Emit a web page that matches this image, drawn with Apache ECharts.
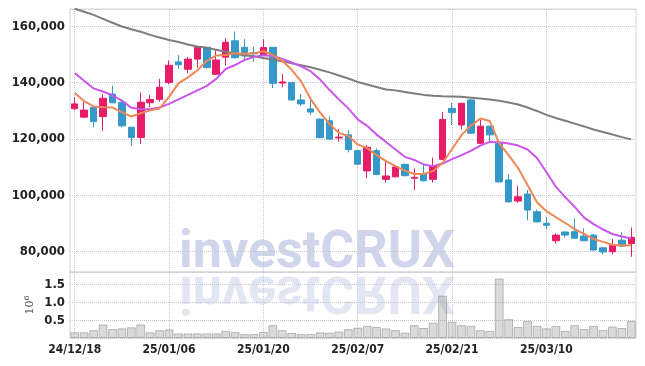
<!DOCTYPE html>
<html>
<head>
<meta charset="utf-8">
<script src="https://cdn.jsdelivr.net/npm/echarts@6/dist/echarts.min.js"></script>
<style>
html,body{margin:0;padding:0;background:#fff;}
#main{width:645px;height:366px;}
</style>
</head>
<body>
<div id="main"></div>
<script>
var dates = ['24/12/18','24/12/19','24/12/20','24/12/23','24/12/24','24/12/26','24/12/27','24/12/30','25/01/02','25/01/03',
  '25/01/06','25/01/07','25/01/08','25/01/09','25/01/10','25/01/13','25/01/14','25/01/15','25/01/16','25/01/17',
  '25/01/20','25/01/21','25/01/22','25/01/23','25/01/24','25/01/31','25/02/03','25/02/04','25/02/05','25/02/06',
  '25/02/07','25/02/10','25/02/11','25/02/12','25/02/13','25/02/14','25/02/17','25/02/18','25/02/19','25/02/20',
  '25/02/21','25/02/24','25/02/25','25/02/26','25/02/27','25/02/28','25/03/04','25/03/05','25/03/06','25/03/07',
  '25/03/10','25/03/11','25/03/12','25/03/13','25/03/14','25/03/17','25/03/18','25/03/19','25/03/20','25/03/21'];

// open, close, low, high
var candles = [
  [130700,132400,130200,134800],[127700,130200,127400,133200],[131200,126100,124100,131300],[127900,134400,122800,135900],
  [135900,132800,132600,138900],[133000,124600,124100,134000],[124100,120500,117400,124300],[120500,133000,118200,136400],
  [132800,134000,131200,135500],[134000,138300,133200,141300],[140000,146100,139400,147800],[147300,146300,144900,149700],
  [144700,148300,143300,149100],[148300,152500,145300,152600],[152500,145300,145000,152600],[142900,148000,142700,151900],
  [149000,154300,146000,155700],[154800,148800,148500,158100],[152500,149400,148300,155400],[150600,150200,147300,152700],
  [149700,152400,149500,155400],[152500,139700,138000,152600],[139800,140200,138300,142900],[140000,133800,133600,140100],
  [133800,132400,131700,135900],[130600,129500,128500,133800],[127000,120400,120200,127200],[126400,119900,119700,127900],
  [120300,120600,119000,123400],[121400,116200,115200,123100],[115800,111000,110800,116000],[108600,117000,106000,117800],
  [115800,107300,107100,116600],[105600,106800,104500,111900],[106500,110000,106300,110700],[110900,106900,106700,111300],
  [106000,106300,101800,109500],[107700,105100,104900,110700],[105600,110300,104500,113300],[112700,126900,112500,129600],
  [130800,129300,124900,132800],[124900,132600,123400,132800],[133800,122000,121800,134000],[118400,124500,118200,126700],
  [124500,121400,119000,124700],[118400,104700,104500,118600],[105400,97600,97400,107500],[97900,99400,97300,103300],
  [100400,94700,91100,101800],[94100,90500,90300,94900],[90000,89300,87800,92300],[83800,85800,82800,86400],
  [86900,85800,85000,87200],[87000,84700,84500,91700],[85500,83800,83600,88200],[85800,80500,80300,86200],
  [81300,79800,79000,81500],[79900,82200,78900,84400],[84000,81900,81700,86800],[82800,85000,78100,88500]
];

var ma5 = [136300,133400,131500,131200,131100,129500,127900,129100,130100,130800,
  134900,139700,141800,144300,147700,149600,149800,150400,150200,150400,
  151100,149800,147700,144500,140400,134200,129400,125300,122100,121000,
  118000,116700,114200,112100,110300,108700,107500,107500,108600,111400,
  116400,121300,124700,127200,126300,118400,114200,109600,103600,97500,
  94300,92200,90100,87900,86200,84400,83400,82400,82100,82200];

var ma20 = [143400,140600,137900,136800,135400,133600,131000,130500,130500,131100,
  132400,134000,135600,137200,138800,141300,144800,146200,148000,149100,
  149700,149400,148400,147100,145700,144000,141100,137400,134000,130800,
  126900,124600,121500,118900,116200,113600,112500,110900,110300,111200,
  112800,114200,115700,117600,118900,118800,118300,117600,116200,113200,
  108200,103000,99300,95800,92000,89700,87800,86200,85300,84600];

var ma60 = [166200,165100,164000,162600,161200,159900,158900,158000,156900,156000,
  155100,154400,153500,152800,152300,151600,150900,150200,149700,149300,
  148700,148200,147500,146800,146100,145400,144500,143600,142500,141400,
  140200,139300,138400,137500,137200,136600,136100,135600,135300,135100,
  135000,134900,134600,134300,134000,133500,132900,132200,131100,129900,
  128500,127400,126400,125400,124400,123300,122400,121500,120600,119800];

// volume, millions of shares
var volume = [0.16,0.16,0.22,0.38,0.25,0.27,0.30,0.38,0.16,0.22,
  0.24,0.13,0.13,0.13,0.13,0.13,0.20,0.17,0.11,0.11,
  0.17,0.36,0.22,0.14,0.11,0.11,0.16,0.15,0.18,0.25,
  0.29,0.34,0.31,0.27,0.22,0.15,0.36,0.28,0.43,1.19,
  0.46,0.36,0.34,0.22,0.20,1.67,0.53,0.31,0.48,0.34,
  0.27,0.34,0.20,0.36,0.25,0.34,0.22,0.32,0.28,0.48];

var priceMin = 72700, priceMax = 166100;
var volMin = 0, volMax = 1.85, volStep = 0.5;

var labelFont = "'DejaVu Sans Condensed','DejaVu Sans',sans-serif";
var gridColor = '#c6c8d8';
var upColor = '#e81c68', downColor = '#3598c9';

var dotted = {show: true, lineStyle: {type: 'dotted', color: gridColor, width: 1}};
var vDotted = {show: true, interval: 9, alignWithLabel: true, lineStyle: {type: 'dotted', color: gridColor, width: 1}};

var chart = echarts.init(document.getElementById('main'));
chart.setOption({
  animation: false,
  backgroundColor: '#fff',
  graphic: [
    {
      type: 'text', z: -10, silent: true, x: 179, y: 272,
      style: {text: 'investCRUX', font: 'bold 52px Roboto', fill: '#cfd5ea', verticalAlign: 'middle', y: -18}
    },
    {
      type: 'text', z: -10, silent: true, x: 179, y: 272, scaleY: -1,
      style: {text: 'investCRUX', font: 'bold 52px Roboto', fill: '#cfd5ea', opacity: 0.6, verticalAlign: 'middle', y: -18}
    }
  ],
  grid: [
    {left: 70, right: 9, top: 9, height: 263, show: true, borderColor: '#d4d4d4', borderWidth: 1},
    {left: 70, right: 9, top: 272, height: 66, show: true, borderColor: '#d4d4d4', borderWidth: 1}
  ],
  xAxis: [
    {
      type: 'category', gridIndex: 0, data: dates,
      axisLine: {show: false}, axisTick: {show: false}, axisLabel: {show: false},
      splitLine: vDotted
    },
    {
      type: 'category', gridIndex: 1, data: dates,
      axisLine: {show: false}, axisTick: {show: false},
      axisLabel: {interval: 9, color: '#222', fontFamily: labelFont, fontSize: 12, fontWeight: 'bold', margin: 6},
      splitLine: vDotted
    }
  ],
  yAxis: [
    {
      type: 'value', gridIndex: 0, min: priceMin, max: priceMax,
      axisLine: {show: false}, axisTick: {show: false},
      axisLabel: {
        showMinLabel: false, showMaxLabel: false,
        color: '#222', fontFamily: labelFont, fontSize: 13, fontWeight: 'bold', margin: 5, padding: [4, 0, 0, 0],
        formatter: function (v) { return v % 20000 === 0 ? v.toLocaleString('en-US') : ''; }
      },
      splitLine: dotted
    },
    {
      type: 'value', gridIndex: 1, min: volMin, max: volMax, interval: volStep,
      name: '10{sup|6}', nameLocation: 'middle', nameGap: 33, nameMoveOverlap: false,
      nameTextStyle: {
        fontFamily: 'DejaVu Serif', fontSize: 11, color: '#444',
        rich: {sup: {fontFamily: 'DejaVu Serif', fontSize: 8, color: '#444', verticalAlign: 'top', padding: [0, 0, 6, 0]}}
      },
      axisLine: {show: false}, axisTick: {show: false},
      axisLabel: {
        showMinLabel: false, showMaxLabel: false,
        color: '#222', fontFamily: labelFont, fontSize: 13, fontWeight: 'bold', margin: 5, padding: [4, 0, 0, 0],
        formatter: function (v) { return (v > 0 && Math.abs(v * 2 - Math.round(v * 2)) < 1e-6) ? v.toFixed(1) : ''; }
      },
      splitLine: dotted
    }
  ],
  series: [
    {
      type: 'candlestick', xAxisIndex: 0, yAxisIndex: 0, data: candles, barWidth: 7,
      itemStyle: {color: upColor, color0: downColor, borderColor: upColor, borderColor0: downColor, borderWidth: 1}
    },
    {type: 'line', xAxisIndex: 0, yAxisIndex: 0, data: ma60, showSymbol: false, lineStyle: {color: '#7d7d7d', width: 2}},
    {type: 'line', xAxisIndex: 0, yAxisIndex: 0, data: ma20, showSymbol: false, lineStyle: {color: '#cc55ee', width: 2}},
    {type: 'line', xAxisIndex: 0, yAxisIndex: 0, data: ma5, showSymbol: false, lineStyle: {color: '#ee8855', width: 2}},
    {
      type: 'bar', xAxisIndex: 1, yAxisIndex: 1, data: volume, barCategoryGap: '6%',
      itemStyle: {color: 'rgba(150,150,150,0.35)', borderColor: 'rgba(120,120,120,0.45)', borderWidth: 1}
    }
  ]
});
</script>
</body>
</html>
